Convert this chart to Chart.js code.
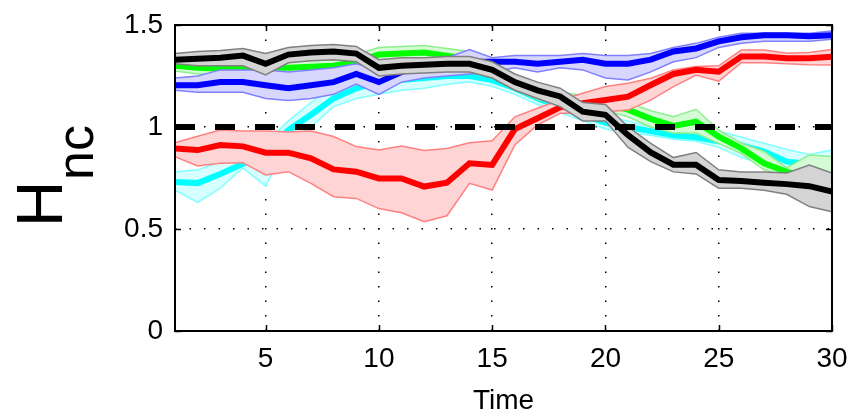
<!DOCTYPE html>
<html>
<head>
<meta charset="utf-8">
<title>Hnc over time</title>
<script src="https://cdn.jsdelivr.net/npm/chart.js@4.4.0/dist/chart.umd.min.js"></script>
<style>
  html, body { margin: 0; padding: 0; background: #fff; }
  #wrap { width: 854px; height: 419px; }
</style>
</head>
<body>
<div id="wrap"><canvas id="hncChart" width="854" height="419"></canvas></div>
<script>
// time steps and axis ticks
const TIME = [1, 2, 3, 4, 5, 6, 7, 8, 9, 10, 11, 12, 13, 14, 15,
              16, 17, 18, 19, 20, 21, 22, 23, 24, 25, 26, 27, 28, 29, 30];
const X_TICKS = [5, 10, 15, 20, 25, 30];
const Y_TICKS = [0, 0.5, 1, 1.5];
const REF_LEVEL = 1;

// cyan run: mean with lower/upper envelope
const CYAN_MEAN = [0.73, 0.725, 0.77, 0.82, 0.88, 0.985, 1.06, 1.14, 1.19, 1.22, 1.23, 1.24, 1.25, 1.25, 1.23,
                   1.19, 1.14, 1.10, 1.06, 1.02, 1.00, 0.98, 0.96, 0.95, 0.93, 0.91, 0.88, 0.83, 0.82, 0.83];
const CYAN_LO = [0.69, 0.63, 0.70, 0.80, 0.71, 0.93, 1.00, 1.10, 1.14, 1.16, 1.18, 1.19, 1.21, 1.22, 1.20,
                 1.16, 1.11, 1.07, 1.03, 0.99, 0.97, 0.96, 0.94, 0.93, 0.90, 0.85, 0.82, 0.80, 0.79, 0.78];
const CYAN_HI = [0.78, 0.79, 0.83, 0.87, 0.92, 1.03, 1.12, 1.20, 1.24, 1.27, 1.28, 1.29, 1.30, 1.30, 1.28,
                 1.23, 1.18, 1.13, 1.09, 1.05, 1.03, 1.00, 0.98, 0.97, 0.98, 0.95, 0.92, 0.89, 0.865, 0.887];

// green run
const GREEN_MEAN = [1.30, 1.29, 1.285, 1.29, 1.29, 1.29, 1.295, 1.30, 1.32, 1.355, 1.36, 1.365, 1.35, 1.33, 1.28,
                    1.22, 1.17, 1.14, 1.125, 1.11, 1.085, 1.04, 1.005, 1.026, 0.953, 0.895, 0.822, 0.78, 0.76, 0.755];
const GREEN_LO = [1.275, 1.26, 1.26, 1.265, 1.265, 1.265, 1.27, 1.275, 1.29, 1.325, 1.33, 1.33, 1.315, 1.295, 1.245,
                  1.185, 1.135, 1.11, 1.095, 1.08, 1.05, 1.00, 0.97, 0.97, 0.92, 0.87, 0.79, 0.76, 0.74, 0.735];
const GREEN_HI = [1.325, 1.32, 1.315, 1.32, 1.32, 1.32, 1.325, 1.33, 1.355, 1.39, 1.395, 1.40, 1.385, 1.37, 1.315,
                  1.255, 1.205, 1.17, 1.155, 1.14, 1.12, 1.08, 1.05, 1.087, 0.985, 0.92, 0.88, 0.80, 0.863, 0.855];

// blue run
const BLUE_MEAN = [1.205, 1.205, 1.22, 1.22, 1.205, 1.19, 1.205, 1.22, 1.26, 1.22, 1.27, 1.295, 1.31, 1.32, 1.32,
                   1.32, 1.31, 1.32, 1.33, 1.31, 1.31, 1.33, 1.37, 1.385, 1.42, 1.44, 1.45, 1.45, 1.445, 1.45];
const BLUE_LO = [1.18, 1.17, 1.17, 1.17, 1.14, 1.13, 1.14, 1.16, 1.21, 1.16, 1.22, 1.24, 1.25, 1.26, 1.27,
                 1.29, 1.27, 1.29, 1.28, 1.24, 1.23, 1.27, 1.32, 1.34, 1.39, 1.41, 1.42, 1.42, 1.42, 1.43];
const BLUE_HI = [1.24, 1.25, 1.28, 1.28, 1.28, 1.27, 1.28, 1.29, 1.31, 1.28, 1.31, 1.34, 1.34, 1.38, 1.34,
                 1.35, 1.35, 1.35, 1.36, 1.35, 1.35, 1.36, 1.39, 1.41, 1.44, 1.46, 1.46, 1.46, 1.46, 1.47];

// red run
const RED_MEAN = [0.895, 0.887, 0.912, 0.905, 0.874, 0.874, 0.846, 0.792, 0.781, 0.748, 0.748, 0.708, 0.727, 0.822, 0.814,
                  0.99, 1.043, 1.096, 1.116, 1.132, 1.149, 1.206, 1.26, 1.28, 1.271, 1.345, 1.345, 1.337, 1.337, 1.345];
const RED_LO = [0.855, 0.809, 0.822, 0.825, 0.765, 0.781, 0.724, 0.658, 0.65, 0.60, 0.58, 0.536, 0.565, 0.724, 0.691,
                0.912, 1.01, 1.067, 1.067, 1.075, 1.083, 1.132, 1.198, 1.255, 1.225, 1.315, 1.315, 1.31, 1.305, 1.304];
const RED_HI = [0.923, 0.955, 0.985, 0.98, 0.98, 0.975, 0.98, 0.953, 0.904, 0.887, 0.907, 0.885, 0.895, 0.923, 0.933,
                1.05, 1.092, 1.132, 1.165, 1.198, 1.214, 1.239, 1.28, 1.296, 1.30, 1.377, 1.377, 1.361, 1.365, 1.38];

// black run
const BLACK_MEAN = [1.33, 1.335, 1.34, 1.35, 1.31, 1.355, 1.365, 1.37, 1.36, 1.29, 1.30, 1.305, 1.31, 1.31, 1.28,
                    1.22, 1.18, 1.15, 1.075, 1.06, 0.96, 0.875, 0.815, 0.815, 0.74, 0.735, 0.727, 0.72, 0.71, 0.683];
const BLACK_LO = [1.31, 1.30, 1.30, 1.30, 1.255, 1.315, 1.325, 1.33, 1.32, 1.25, 1.26, 1.265, 1.27, 1.27, 1.24,
                  1.18, 1.14, 1.10, 1.03, 1.03, 0.90, 0.83, 0.78, 0.77, 0.70, 0.70, 0.69, 0.67, 0.61, 0.585];
const BLACK_HI = [1.36, 1.37, 1.375, 1.385, 1.36, 1.39, 1.40, 1.405, 1.395, 1.33, 1.34, 1.34, 1.345, 1.345, 1.32,
                  1.26, 1.22, 1.19, 1.12, 1.11, 1.00, 0.92, 0.85, 0.875, 0.79, 0.78, 0.78, 0.775, 0.814, 0.774];

const FONT = "'Liberation Sans', Arial, Helvetica, sans-serif";

// drawn bottom to top: cyan first, black last; envelopes are opaque patches
const SERIES = [
  { mean: CYAN_MEAN,  lo: CYAN_LO,  hi: CYAN_HI,  line: '#00ffff', edge: '#80ffff', fill: '#d6ffff' },
  { mean: GREEN_MEAN, lo: GREEN_LO, hi: GREEN_HI, line: '#00ff00', edge: '#8fef8f', fill: '#d4fcd4' },
  { mean: BLUE_MEAN,  lo: BLUE_LO,  hi: BLUE_HI,  line: '#0000ff', edge: '#8080ff', fill: '#d6d6ff' },
  { mean: RED_MEAN,   lo: RED_LO,   hi: RED_HI,   line: '#ff0000', edge: '#ff8080', fill: '#ffd4d4' },
  { mean: BLACK_MEAN, lo: BLACK_LO, hi: BLACK_HI, line: '#000000', edge: '#808080', fill: '#d4d4d4' }
];

function pts(values) {
  return TIME.map((t, i) => ({ x: t, y: values[i] }));
}

const datasets = [];
SERIES.forEach((s, k) => {
  const base = (SERIES.length - k) * 10;
  const loIndex = datasets.length;
  // upper edge carries the patch (filled down to the lower edge) and is painted first
  datasets.push({ data: pts(s.lo), borderColor: s.edge, borderWidth: 1.5, pointRadius: 0, fill: false, order: base + 2 });
  datasets.push({ data: pts(s.hi), borderColor: s.edge, borderWidth: 1.5, pointRadius: 0,
                  backgroundColor: s.fill, fill: loIndex, order: base + 3 });
  datasets.push({ data: pts(s.mean), borderColor: s.line, borderWidth: 6, pointRadius: 0, fill: false, order: base + 1 });
});

// dashed reference level across the whole time range
datasets.push({
  data: [{ x: TIME[0], y: REF_LEVEL }, { x: TIME[TIME.length - 1], y: REF_LEVEL }],
  borderColor: '#000', borderWidth: 6, borderDash: [20, 20], borderCapStyle: 'butt',
  pointRadius: 0, fill: false, order: 0
});

// box, inward tick marks and the H_nc axis label
const frame = {
  id: 'frame',
  afterDraw(chart) {
    const { ctx, chartArea: a, scales: { x, y } } = chart;
    ctx.save();
    ctx.strokeStyle = '#000';
    ctx.lineWidth = 1.5;
    ctx.beginPath();
    x.ticks.forEach(t => {
      const px = Math.round(x.getPixelForValue(t.value)) + 0.5;
      ctx.moveTo(px, a.bottom); ctx.lineTo(px, a.bottom - 6);
      ctx.moveTo(px, a.top); ctx.lineTo(px, a.top + 6);
    });
    y.ticks.forEach(t => {
      const py = Math.round(y.getPixelForValue(t.value)) + 0.5;
      ctx.moveTo(a.left, py); ctx.lineTo(a.left + 6, py);
      ctx.moveTo(a.right, py); ctx.lineTo(a.right - 6, py);
    });
    ctx.stroke();
    ctx.lineWidth = 2;
    ctx.strokeRect(a.left, a.top, a.width, a.height);

    ctx.fillStyle = '#000';
    ctx.textBaseline = 'alphabetic';
    ctx.textAlign = 'left';
    ctx.save();
    ctx.translate(62, 227);
    ctx.rotate(-Math.PI / 2);
    ctx.font = '64px ' + FONT;
    ctx.fillText('H', 0, 0);
    ctx.restore();
    ctx.save();
    ctx.translate(93, 180);
    ctx.rotate(-Math.PI / 2);
    ctx.font = '52px ' + FONT;
    ctx.fillText('nc', 0, 0);
    ctx.restore();
    ctx.restore();
  }
};

new Chart(document.getElementById('hncChart').getContext('2d'), {
  type: 'line',
  data: { datasets: datasets },
  plugins: [frame],
  options: {
    responsive: false,
    animation: false,
    devicePixelRatio: 1,
    layout: { padding: { top: 25, right: 22, left: 0, bottom: 0 } },
    plugins: { legend: { display: false }, tooltip: { enabled: false } },
    elements: { line: { tension: 0, borderJoinStyle: 'miter' } },
    scales: {
      x: {
        type: 'linear',
        min: TIME[0],
        max: TIME[TIME.length - 1],
        afterBuildTicks: scale => { scale.ticks = X_TICKS.map(v => ({ value: v })); },
        afterFit: scale => {
          scale.height = 88;
          scale.paddingLeft = 0;
          scale.paddingRight = 0;
        },
        grid: { color: '#000', lineWidth: 1.5, drawTicks: false },
        border: { display: false, dash: [1.5, 13] },
        ticks: { color: '#000', padding: 11, maxRotation: 0, font: { family: FONT, size: 28 } },
        title: { display: true, text: 'Time', color: '#000', padding: { top: 0, bottom: 1 },
                 font: { family: FONT, size: 28 } }
      },
      y: {
        min: Y_TICKS[0],
        max: Y_TICKS[Y_TICKS.length - 1],
        afterBuildTicks: scale => { scale.ticks = Y_TICKS.map(v => ({ value: v })); },
        afterFit: scale => {
          scale.width = 175;
          scale.paddingTop = 0;
          scale.paddingBottom = 0;
        },
        grid: { color: '#000', lineWidth: 1.5, drawTicks: false },
        border: { display: false, dash: [1.5, 13] },
        ticks: { color: '#000', padding: 12, font: { family: FONT, size: 28 },
                 callback: value => String(value) }
      }
    }
  }
});
</script>
</body>
</html>
